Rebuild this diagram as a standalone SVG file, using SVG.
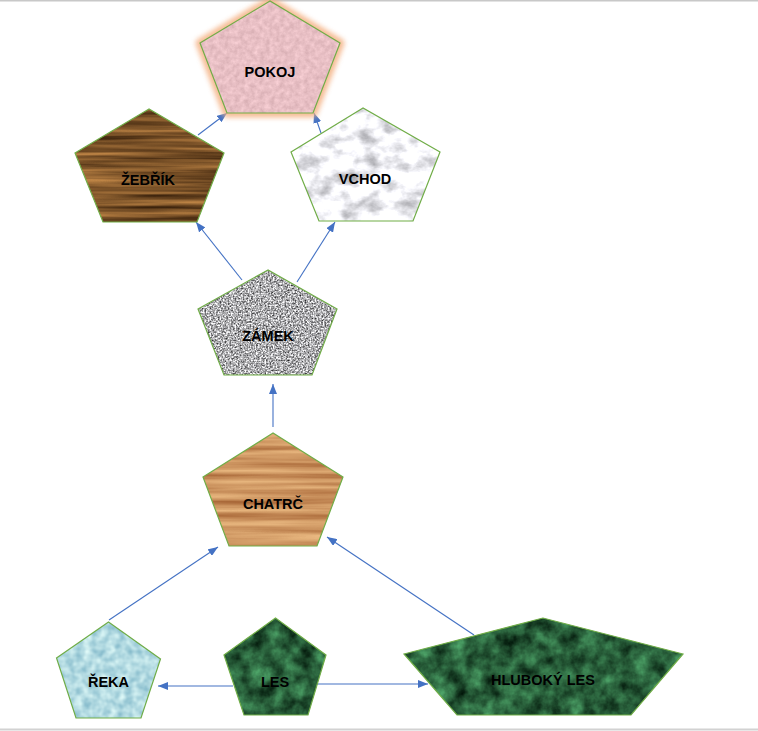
<svg xmlns="http://www.w3.org/2000/svg" width="758" height="731" viewBox="0 0 758 731">
<style>
.edge{fill:none;stroke:#70ad47;stroke-width:1.2;stroke-linejoin:miter}
.lbl{font-family:"Liberation Sans",Arial,sans-serif;font-weight:bold;font-size:14.5px;fill:#000;text-anchor:middle}
.conn{stroke:#4472c4;stroke-width:1.1;fill:none;marker-end:url(#arr)}
filter{color-interpolation-filters:sRGB}
</style>
<defs>
<marker id="arr" markerUnits="userSpaceOnUse" markerWidth="10" markerHeight="8" refX="10" refY="4" orient="auto">
<path d="M0,0 L10,4 L0,8 z" fill="#4472c4"/>
</marker>
<filter id="glow" x="-20%" y="-20%" width="140%" height="140%" color-interpolation-filters="sRGB">
<feGaussianBlur stdDeviation="2.5"/>
</filter>
<filter id="pink" x="0" y="0" width="1" height="1" color-interpolation-filters="sRGB">
<feTurbulence type="fractalNoise" baseFrequency="0.2" numOctaves="3" seed="2" result="n"/>
<feColorMatrix in="n" type="matrix" values="0.18 0 0 0 0.82  0.18 0 0 0 0.66  0.18 0 0 0 0.68  0 0 0 0 1" result="c"/>
<feComposite in="c" in2="SourceGraphic" operator="in"/>
</filter>
<filter id="darkwood" x="0" y="0" width="1" height="1" color-interpolation-filters="sRGB">
<feTurbulence type="fractalNoise" baseFrequency="0.006 0.18" numOctaves="3" seed="5" result="n"/>
<feColorMatrix in="n" type="matrix" values="0.8 0 0 0 0.08  0.6 0 0 0 0.02  0.35 0 0 0 -0.02  0 0 0 0 1" result="c"/>
<feComposite in="c" in2="SourceGraphic" operator="in"/>
</filter>
<filter id="marble" x="0" y="0" width="1" height="1" color-interpolation-filters="sRGB">
<feTurbulence type="fractalNoise" baseFrequency="0.05 0.07" numOctaves="4" seed="8" result="n"/>
<feColorMatrix in="n" type="matrix" values="0.8 0 0 0 0.56  0.8 0 0 0 0.56  0.8 0 0 0 0.58  0 0 0 0 1" result="c"/>
<feComposite in="c" in2="SourceGraphic" operator="in"/>
</filter>
<filter id="granite" x="0" y="0" width="1" height="1" color-interpolation-filters="sRGB">
<feTurbulence type="fractalNoise" baseFrequency="0.6" numOctaves="2" seed="4" result="n"/>
<feColorMatrix in="n" type="matrix" values="1.5 0 0 0 -0.07  1.5 0 0 0 -0.07  1.5 0 0 0 -0.06  0 0 0 0 1" result="c"/>
<feComposite in="c" in2="SourceGraphic" operator="in"/>
</filter>
<filter id="oak" x="0" y="0" width="1" height="1" color-interpolation-filters="sRGB">
<feTurbulence type="fractalNoise" baseFrequency="0.005 0.15" numOctaves="3" seed="11" result="n"/>
<feColorMatrix in="n" type="matrix" values="0.4 0 0 0 0.6  0.5 0 0 0 0.33  0.45 0 0 0 0.15  0 0 0 0 1" result="c"/>
<feComposite in="c" in2="SourceGraphic" operator="in"/>
</filter>
<filter id="water" x="0" y="0" width="1" height="1" color-interpolation-filters="sRGB">
<feTurbulence type="fractalNoise" baseFrequency="0.12" numOctaves="2" seed="6" result="n"/>
<feColorMatrix in="n" type="matrix" values="0.5 0 0 0 0.45  0.35 0 0 0 0.68  0.25 0 0 0 0.76  0 0 0 0 1" result="c"/>
<feComposite in="c" in2="SourceGraphic" operator="in"/>
</filter>
<filter id="green" x="0" y="0" width="1" height="1" color-interpolation-filters="sRGB">
<feTurbulence type="fractalNoise" baseFrequency="0.06" numOctaves="4" seed="9" result="n"/>
<feColorMatrix in="n" type="matrix" values="0.4 0 0 0 -0.04  0.75 0 0 0 0.0  0.5 0 0 0 -0.02  0 0 0 0 1" result="c"/>
<feComposite in="c" in2="SourceGraphic" operator="in"/>
</filter>
</defs>
<rect x="0" y="0" width="758" height="731" fill="#ffffff"/>
<line x1="0" y1="0.75" x2="758" y2="0.75" stroke="#c8c8c8" stroke-width="1.5"/>
<line x1="0" y1="729.5" x2="758" y2="729.5" stroke="#d2d2d2" stroke-width="2"/>

<g id="connectors">
<line class="conn" x1="198" y1="135" x2="227" y2="113"/>
<line class="conn" x1="321" y1="133" x2="314" y2="113"/>
<line class="conn" x1="242" y1="280" x2="196" y2="222"/>
<line class="conn" x1="297" y1="282" x2="335" y2="222"/>
<line class="conn" x1="273" y1="427" x2="273" y2="384"/>
<line class="conn" x1="109" y1="620" x2="218" y2="547"/>
<line class="conn" x1="474" y1="635" x2="327" y2="537"/>
<line class="conn" x1="233" y1="686" x2="158" y2="686"/>
<line class="conn" x1="317" y1="684" x2="428" y2="684"/>
</g>

<g id="pokoj">
<polygon points="270,1 200,43 227,113 313,113 340,43" fill="none" stroke="#f4b183" stroke-width="9" stroke-linejoin="round" filter="url(#glow)" opacity="0.85"/>
<polygon points="270,1 200,43 227,113 313,113 340,43" fill="#e6bcc0" filter="url(#pink)"/>
<polygon class="edge" points="270,1 200,43 227,113 313,113 340,43"/>
<text class="lbl" x="270" y="77">POKOJ</text>
</g>

<g id="zebrik">
<polygon points="149,109 75,153 103,222 197,222 224,153" fill="#7b5228" filter="url(#darkwood)"/>
<polygon class="edge" points="149,109 75,153 103,222 197,222 224,153"/>
<text class="lbl" x="148" y="185">ŽEBŘÍK</text>
</g>

<g id="vchod">
<polygon points="363,108 291,152 319,221 413,221 440,152" fill="#ececec" filter="url(#marble)"/>
<polygon class="edge" points="363,108 291,152 319,221 413,221 440,152"/>
<text class="lbl" x="365" y="184">VCHOD</text>
</g>

<g id="zamek">
<polygon points="268,270 198,309 224,375 312,375 337,309" fill="#b0b0b0" filter="url(#granite)"/>
<polygon class="edge" points="268,270 198,309 224,375 312,375 337,309"/>
<text class="lbl" x="268" y="341">ZÁMEK</text>
</g>

<g id="chatrc">
<polygon points="273,433 203,477 229,546 317,546 343,477" fill="#d09a64" filter="url(#oak)"/>
<polygon class="edge" points="273,433 203,477 229,546 317,546 343,477"/>
<text class="lbl" x="273" y="509">CHATRČ</text>
</g>

<g id="reka">
<polygon points="108.5,622 56.5,658 76,718 141,718 160.5,659" fill="#bfe6f0" filter="url(#water)"/>
<polygon class="edge" points="108.5,622 56.5,658 76,718 141,718 160.5,659"/>
<text class="lbl" x="108.5" y="687">ŘEKA</text>
</g>

<g id="les">
<polygon points="275.5,618 224,655 244,715 308,715 326,655" fill="#26593a" filter="url(#green)"/>
<polygon class="edge" points="275.5,618 224,655 244,715 308,715 326,655"/>
<text class="lbl" x="275" y="687">LES</text>
</g>

<g id="hluboky-les">
<polygon points="543,618 404,654 457,715 631,715 683,654" fill="#26593a" filter="url(#green)"/>
<polygon class="edge" points="543,618 404,654 457,715 631,715 683,654"/>
<text class="lbl" x="543" y="685">HLUBOKÝ LES</text>
</g>
</svg>
